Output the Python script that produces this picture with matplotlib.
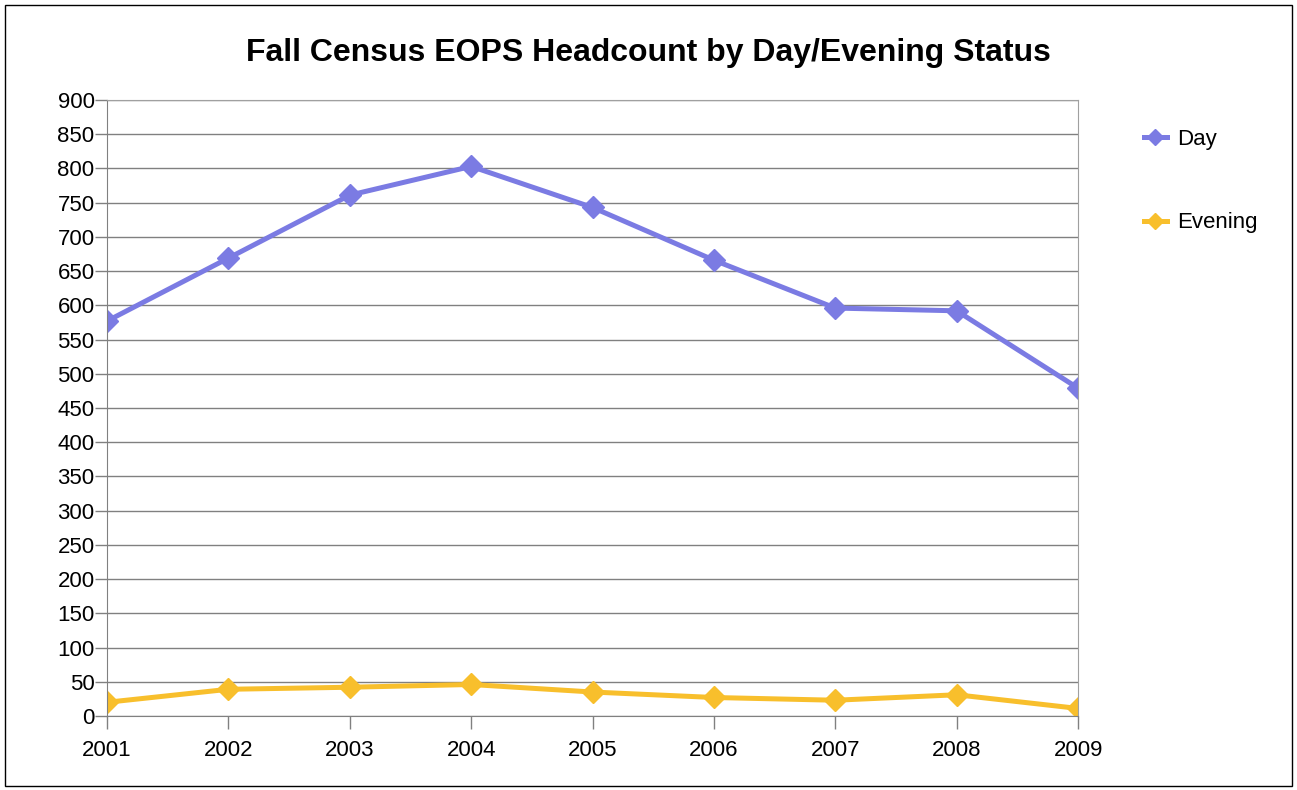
import matplotlib.pyplot as plt
from matplotlib.patches import Rectangle

years = ["2001", "2002", "2003", "2004", "2005", "2006", "2007", "2008", "2009"]
day = [577, 669, 761, 803, 743, 666, 596, 592, 479]
evening = [20, 39, 42, 46, 35, 27, 23, 31, 11]

plt.rcParams['font.family'] = ['Liberation Sans', 'DejaVu Sans']

fig = plt.figure(figsize=(12.97, 7.90), dpi=100)
ax = fig.add_axes([0.0825, 0.0937, 0.7487, 0.7797])

x = range(len(years))
ax.plot(x, day, color="#7b7be3", lw=3.6, marker="D", ms=11, label="Day")
ax.plot(x, evening, color="#f8bf2c", lw=3.6, marker="D", ms=11, label="Evening")

ax.set_xlim(0, len(years) - 1)
ax.set_ylim(0, 900)
ax.set_yticks(range(0, 901, 50))
ax.set_xticks(list(x))
ax.set_xticklabels(years)
ax.tick_params(axis="both", labelsize=16, color="#808080", length=9, width=1)
ax.tick_params(axis="x", pad=8)
ax.tick_params(axis="y", pad=0)
ax.grid(axis="y", color="#808080", lw=1)
ax.set_axisbelow(True)
for s in ax.spines.values():
    s.set_color("#a0a0a0")
ax.spines["bottom"].set_color("#808080")
ax.spines["left"].set_color("#808080")

fig.suptitle("Fall Census EOPS Headcount by Day/Evening Status", fontsize=23,
             fontweight="bold", y=0.952)

ax.legend(loc="upper left", bbox_to_anchor=(1.047, 0.985), frameon=False,
          fontsize=16, labelspacing=2.8, handlelength=1.05, handletextpad=0.45,
          markerscale=0.7)

fig.patches.append(Rectangle((0.004, 0.005), 0.992, 0.989, transform=fig.transFigure,
                             fill=False, edgecolor="black", lw=1))

fig.savefig("out.png", dpi=100)
